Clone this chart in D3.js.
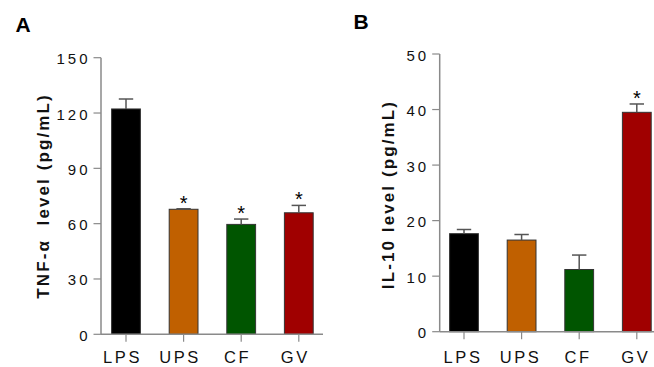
<!DOCTYPE html>
<html><head><meta charset="utf-8">
<script src="https://cdn.jsdelivr.net/npm/d3@7"></script>
<style>
html,body{margin:0;padding:0;background:#fff;}
svg{display:block;}
text{font-family:"Liberation Sans",Arial,Helvetica,sans-serif;}
</style></head>
<body>
<svg id="chart" width="654" height="367"></svg>
<script>
const categories = ["LPS", "UPS", "CF", "GV"];
const colors = ["#000000", "#c06000", "#005500", "#a00000"];
const tnfValues = [122.2, 67.8, 59.6, 65.9];
const tnfErrors = [5.4, 0.3, 2.9, 4.0];
const tnfSig = [false, true, true, true];
const tnfTicks = [0, 30, 60, 90, 120, 150];
const il10Values = [17.65, 16.5, 11.2, 39.5];
const il10Errors = [0.75, 1.0, 2.6, 1.5];
const il10Sig = [false, false, false, true];
const il10Ticks = [0, 10, 20, 30, 40, 50];

const svg = d3.select("#chart");
const axisColor = "#8a8a8a";

function panel(cfg) {
  const g = svg.append("g");
  const y = d3.scaleLinear().domain([0, cfg.max]).range([cfg.y0, cfg.y1]);
  const x = d3.scaleBand().domain(categories).range(cfg.xr).paddingInner(0.5).paddingOuter(0.25);

  // bars
  g.selectAll("rect.bar").data(categories).join("rect")
    .attr("x", d => x(d)).attr("width", x.bandwidth())
    .attr("y", (d, i) => y(cfg.values[i]))
    .attr("height", (d, i) => y(0) - y(cfg.values[i]))
    .attr("fill", (d, i) => colors[i])
    .attr("stroke", "#333").attr("stroke-width", 1);

  // error bars
  const cap = x.bandwidth() / 2;
  categories.forEach((c, i) => {
    const cx = x(c) + x.bandwidth() / 2;
    const top = y(cfg.values[i] + cfg.errors[i]);
    g.append("line").attr("x1", cx).attr("x2", cx)
      .attr("y1", y(cfg.values[i])).attr("y2", top)
      .attr("stroke", "#555").attr("stroke-width", 1.5);
    g.append("line").attr("x1", cx - cap / 2).attr("x2", cx + cap / 2)
      .attr("y1", top).attr("y2", top)
      .attr("stroke", "#555").attr("stroke-width", 1.5);
    if (cfg.sig[i]) {
      g.append("text").attr("x", cx).attr("y", top + 1)
        .attr("text-anchor", "middle").attr("font-size", 20)
        .attr("fill", "#000").text("*");
    }
  });

  // y axis
  g.append("line").attr("x1", cfg.ax).attr("x2", cfg.ax)
    .attr("y1", y(0)).attr("y2", y(cfg.max))
    .attr("stroke", axisColor).attr("stroke-width", 1.5);
  cfg.ticks.forEach(t => {
    g.append("line").attr("x1", cfg.ax - 7.5).attr("x2", cfg.ax)
      .attr("y1", y(t)).attr("y2", y(t))
      .attr("stroke", axisColor).attr("stroke-width", 1.2);
    g.append("text").attr("x", cfg.ax - 13.5 + 3).attr("y", y(t) + 6.5)
      .attr("text-anchor", "end").attr("font-size", 15)
      .attr("letter-spacing", 3).attr("fill", "#111").text(t);
  });

  // x axis
  g.append("line").attr("x1", cfg.ax).attr("x2", cfg.xEnd)
    .attr("y1", y(0)).attr("y2", y(0))
    .attr("stroke", axisColor).attr("stroke-width", 1.5);
  categories.forEach((c, i) => {
    const cx = x(c) + x.bandwidth() / 2;
    g.append("line").attr("x1", cx).attr("x2", cx)
      .attr("y1", y(0)).attr("y2", y(0) + 7.5)
      .attr("stroke", axisColor).attr("stroke-width", 1.2);
    g.append("text").attr("x", cx + cfg.labelShift).attr("y", 362.5)
      .attr("text-anchor", "middle").attr("font-size", 16.5)
      .attr("letter-spacing", 2.6).attr("fill", "#111").text(c);
  });

  // axis title
  g.append("text")
    .attr("transform", `translate(${cfg.titleX},${cfg.titleY}) rotate(-90)`)
    .attr("text-anchor", "middle").attr("font-size", 17).attr("font-weight", "bold")
    .attr("letter-spacing", cfg.titleSpacing).attr("fill", "#111")
    .attr("xml:space", "preserve")
    .text(cfg.title);

  // panel letter
  g.append("text").attr("x", cfg.letterX).attr("y", cfg.letterY)
    .attr("font-size", cfg.letterSize).attr("font-weight", "bold").attr("fill", "#000")
    .text(cfg.letter);
}

panel({
  max: 150, y0: 334.3, y1: 57.7, xr: [97.2, 327.6], ax: 101, xEnd: 323,
  values: tnfValues, errors: tnfErrors, sig: tnfSig, ticks: tnfTicks,
  title: "TNF-α  level (pg/mL)", titleX: 48.5, titleY: 196, titleSpacing: 2.1,
  letter: "A", letterX: 15.5, letterY: 32.3, letterSize: 21, labelShift: -3.5
});
panel({
  max: 50, y0: 331.7, y1: 54, xr: [435.2, 665.6], ax: 439.7, xEnd: 660,
  values: il10Values, errors: il10Errors, sig: il10Sig, ticks: il10Ticks,
  title: "IL-10 level (pg/mL)", titleX: 393.5, titleY: 194.6, titleSpacing: 2.1,
  letter: "B", letterX: 353.5, letterY: 29.3, letterSize: 21, labelShift: -1
});
</script>
</body></html>
